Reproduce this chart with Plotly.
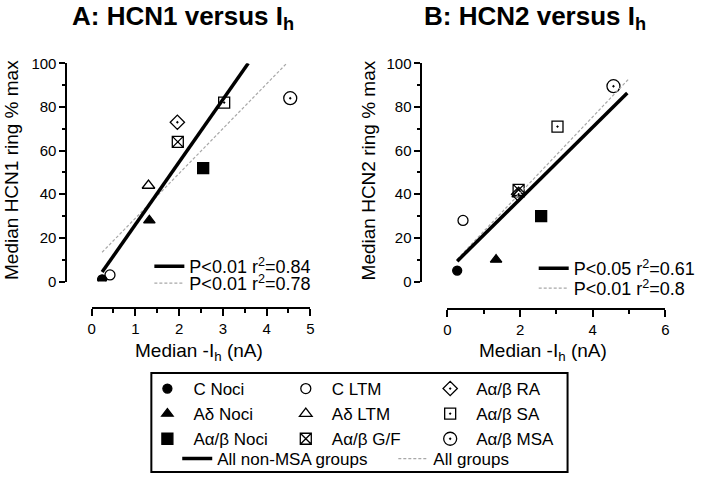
import plotly.graph_objects as go

W, H = 701, 479
FONT = "Liberation Sans, Arial, Helvetica, sans-serif"

# ---------------- data ----------------
groups = ["C Noci", "A&#948; Noci", "A&#945;/&#946; Noci",
          "C LTM", "A&#948; LTM", "A&#945;/&#946; G/F",
          "A&#945;/&#946; RA", "A&#945;/&#946; SA", "A&#945;/&#946; MSA"]
symbols = ["circle", "triangle-up", "square",
           "circle-open", "triangle-up-open", "square-x-open",
           "diamond-open-dot", "square-open-dot", "circle-open-dot"]
sizes = [9, 10, 11, 10, 11, 11, 11, 11, 13]

ih_A = [0.24, 1.32, 2.55, 0.42, 1.30, 1.97, 1.96, 3.03, 4.54]
hcn1 = [1, 28, 52, 3, 44, 64, 73, 82, 84]
ih_B = [0.27, 1.34, 2.58, 0.43, 1.95, 1.96, 1.96, 3.03, 4.57]
hcn2 = [5, 10, 30, 28, 40, 42, 40, 71, 89.5]

fitA_nonmsa_x = [0.24, 3.58]
fitA_nonmsa_y = [4.3, 100]
fitA_all_x = [0.24, 4.46]
fitA_all_y = [13.4, 100]
fitB_nonmsa_x = [0.27, 4.95]
fitB_nonmsa_y = [9.3, 86.4]
fitB_all_x = [0.27, 5.0]
fitB_all_y = [10.2, 93]

statsA = ["P<0.01 r<sup>2</sup>=0.84", "P<0.01 r<sup>2</sup>=0.78"]
statsB = ["P<0.05 r<sup>2</sup>=0.61", "P<0.01 r<sup>2</sup>=0.8"]
fit_names = ["All non-MSA groups", "All groups"]

xticksA = [0, 1, 2, 3, 4, 5]
xticksB = [0, 2, 4, 6]
yticks = [0, 20, 40, 60, 80, 100]

# ---------------- helpers (window pixel -> paper) ----------------
def px(x):
    return x / W

def py(y):
    return 1 - y / H

legend_of = ["legend", "legend", "legend",
             "legend2", "legend2", "legend2",
             "legend3", "legend3", "legend3"]

SOLID = dict(color="black", width=3.5)
DASH = dict(color="#a8a8a8", width=1.2, dash="3px,2px")

fig = go.Figure()

for i, g in enumerate(groups):
    mk = dict(symbol=symbols[i], size=sizes[i], color="black",
              line=dict(color="black", width=1.3))
    fig.add_trace(go.Scatter(x=[ih_A[i]], y=[hcn1[i]], mode="markers", name=g,
                             marker=mk, xaxis="x", yaxis="y",
                             legend=legend_of[i], showlegend=True))
    fig.add_trace(go.Scatter(x=[ih_B[i]], y=[hcn2[i]], mode="markers", name=g,
                             marker=mk, xaxis="x2", yaxis="y2", showlegend=False))

fig.add_trace(go.Scatter(x=fitA_all_x, y=fitA_all_y, mode="lines", name=statsA[1],
                         line=DASH, xaxis="x", yaxis="y", legend="legend7"))
fig.add_trace(go.Scatter(x=fitA_nonmsa_x, y=fitA_nonmsa_y, mode="lines", name=statsA[0],
                         line=SOLID, xaxis="x", yaxis="y", legend="legend6"))
fig.add_trace(go.Scatter(x=fitB_all_x, y=fitB_all_y, mode="lines", name=statsB[1],
                         line=DASH, xaxis="x2", yaxis="y2", legend="legend9"))
fig.add_trace(go.Scatter(x=fitB_nonmsa_x, y=fitB_nonmsa_y, mode="lines", name=statsB[0],
                         line=SOLID, xaxis="x2", yaxis="y2", legend="legend8"))

fig.add_trace(go.Scatter(x=[None], y=[None], mode="lines", name=fit_names[0],
                         line=SOLID, legend="legend4"))
fig.add_trace(go.Scatter(x=[None], y=[None], mode="lines", name=fit_names[1],
                         line=DASH, legend="legend5"))

TICKFONT = dict(family=FONT, size=15, color="black")

def xaxis_cfg(x0, x1, ypos, rng, tv, minor_dt):
    return dict(domain=[px(x0), px(x1)], range=rng, anchor="free", position=py(ypos),
                tickvals=tv, ticks="outside", ticklen=7, tickwidth=2, tickcolor="black",
                showline=True, linewidth=2, linecolor="black", showgrid=False,
                zeroline=False, tickfont=TICKFONT, automargin=False, fixedrange=True,
                minor=dict(dtick=minor_dt, ticks="outside", ticklen=4, tickwidth=2,
                           tickcolor="black", showgrid=False))

def yaxis_cfg(xpos):
    return dict(domain=[py(281.5), py(63.3)], range=[0, 100], anchor="free",
                position=px(xpos), tickvals=yticks, ticks="outside", ticklen=6,
                tickwidth=2, tickcolor="black", showline=True, linewidth=2,
                linecolor="black", showgrid=False, zeroline=False, tickfont=TICKFONT,
                automargin=False, fixedrange=True,
                minor=dict(dtick=10, ticks="outside", ticklen=3, tickwidth=2,
                           tickcolor="black", showgrid=False))

def leg(x, ytop, itemwidth=30, size=17):
    return dict(x=px(x), y=py(ytop), xanchor="left", yanchor="top",
                bgcolor="rgba(0,0,0,0)", borderwidth=0,
                font=dict(family=FONT, size=size, color="black"),
                orientation="v", itemclick=False, itemdoubleclick=False,
                itemwidth=itemwidth)

def ann(text, x, y, size, bold=False, angle=0):
    return dict(text=("<b>%s</b>" % text) if bold else text, x=px(x), y=py(y),
                xref="paper", yref="paper", showarrow=False, xanchor="center",
                yanchor="middle", textangle=angle,
                font=dict(family=FONT, size=size, color="black"))

fig.update_layout(
    width=W, height=H, margin=dict(l=0, r=0, t=0, b=0),
    template="none", paper_bgcolor="white", plot_bgcolor="white",
    font=dict(family=FONT, color="black"),
    hovermode=False,
    xaxis=xaxis_cfg(92, 311.7, 308.3, [0, 5], xticksA, 0.5),
    yaxis=yaxis_cfg(66.7),
    xaxis2=xaxis_cfg(449.3, 668.3, 309, [0, 6], xticksB, 1),
    yaxis2=yaxis_cfg(423.3),
    legend=leg(142, 371, 42),
    legend2=leg(281, 371, 42),
    legend3=leg(426, 371, 42),
    legend4=leg(178, 441),
    legend5=leg(395, 441),
    legend6=leg(150, 248, size=18),
    legend7=leg(150, 265, size=18),
    legend8=leg(536, 250, size=18),
    legend9=leg(536, 270, size=18),
    showlegend=True,
    shapes=[dict(type="rect", xref="paper", yref="paper",
                 x0=px(152), x1=px(570), y0=py(373), y1=py(472),
                 line=dict(color="black", width=2), fillcolor="rgba(0,0,0,0)")],
    annotations=[
        ann("A: HCN1 versus I<sub>h</sub>", 184, 17, 26, bold=True),
        ann("B: HCN2 versus I<sub>h</sub>", 537, 17, 26, bold=True),
        ann("Median HCN1 ring % max", 11, 170, 19, angle=-90),
        ann("Median HCN2 ring % max", 370, 170, 19, angle=-90),
        ann("Median -I<sub>h</sub> (nA)", 200, 352, 19),
        ann("Median -I<sub>h</sub> (nA)", 545, 352, 19),
    ],
)

# remove the page's default body margin so the figure sits at the window's top-left
fig.write_html("out.html",
               config={"displayModeBar": False, "staticPlot": True},
               post_script="document.body.style.margin='0';"
                           "document.body.style.overflow='hidden';")
